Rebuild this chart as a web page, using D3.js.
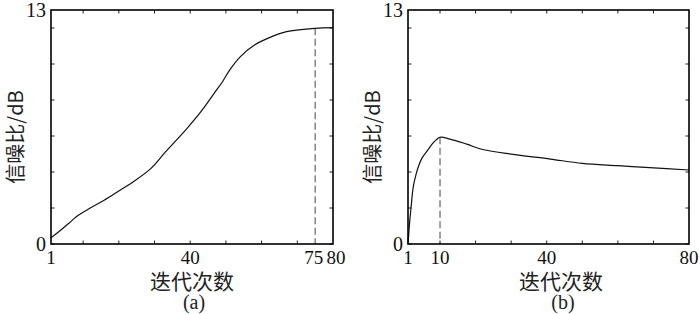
<!DOCTYPE html>
<html>
<head>
<meta charset="utf-8">
<script src="https://cdn.jsdelivr.net/npm/d3@7"></script>
<style>
  body { margin: 0; background: #fff; }
  svg { display: block; }
</style>
</head>
<body>
<div id="chart"></div>
<script>
// panel (a): SNR vs iteration count
var iterA = [1, 3, 6, 8, 12, 16, 20, 24, 29, 33, 39, 43, 47, 49, 51, 54, 58, 62, 67, 75, 80];
var snrA  = [0.35, 0.65, 1.15, 1.5, 2.0, 2.45, 2.95, 3.45, 4.2, 5.1, 6.4, 7.35, 8.45, 9.0, 9.65, 10.4, 11.05, 11.45, 11.8, 11.98, 12.02];
// panel (b)
var iterB = [1, 1.5, 1.8, 2.5, 3.3, 4, 5, 6.5, 8, 9, 10, 12.8, 17.5, 22, 30.5, 41, 50, 60, 69, 80];
var snrB  = [0, 1.3, 1.9, 3.2, 3.9, 4.35, 4.8, 5.2, 5.6, 5.8, 5.93, 5.83, 5.55, 5.25, 4.98, 4.72, 4.48, 4.35, 4.24, 4.11];

var yTicks = [0, 2, 4, 6, 8, 10, 12];
var yTickLabels = [0, 13];
var xTicks = [10, 20, 30, 40, 50, 60, 70];
var xLabelsA = [1, 40, 75, 80];
var xLabelsB = [1, 10, 40, 80];
var markA = 75, markB = 10;

var svg = d3.select("#chart").append("svg")
    .attr("width", 700)
    .attr("height", 314);

var serif = "'Liberation Serif', 'Times New Roman', serif";
var cjk = "'Noto Sans CJK SC', sans-serif";

function drawPanel(left, right, iters, vals, labels, mark, caption, labelX) {
    var top = 10, bottom = 244;

    var x = d3.scaleLinear().domain([1, 80]).range([left, right]);
    var y = d3.scaleLinear().domain([0, 13]).range([bottom, top]);

    var g = svg.append("g");

    // inward ticks on all four sides
    var tl = 3.5;
    yTicks.forEach(function(t) {
        g.append("line").attr("x1", left).attr("x2", left + tl).attr("y1", y(t)).attr("y2", y(t))
            .attr("stroke", "#222").attr("stroke-width", 1);
        g.append("line").attr("x1", right).attr("x2", right - tl).attr("y1", y(t)).attr("y2", y(t))
            .attr("stroke", "#222").attr("stroke-width", 1);
    });
    xTicks.forEach(function(t) {
        g.append("line").attr("x1", x(t)).attr("x2", x(t)).attr("y1", bottom).attr("y2", bottom - tl)
            .attr("stroke", "#222").attr("stroke-width", 1);
        g.append("line").attr("x1", x(t)).attr("x2", x(t)).attr("y1", top).attr("y2", top + tl)
            .attr("stroke", "#222").attr("stroke-width", 1);
    });

    var data = iters.map(function(d, i) { return { it: d, v: vals[i] }; });

    // dashed marker line
    var peak = data.filter(function(d) { return d.it === mark; })[0];
    g.append("line")
        .attr("x1", x(mark)).attr("x2", x(mark))
        .attr("y1", y(peak.v)).attr("y2", bottom)
        .attr("stroke", "#555")
        .attr("stroke-width", 1.1)
        .attr("stroke-dasharray", "7,3.5");

    g.append("path")
        .datum(data)
        .attr("fill", "none")
        .attr("stroke", "#111")
        .attr("stroke-width", 1.2)
        .attr("d", d3.line()
            .curve(d3.curveCatmullRom.alpha(0.5))
            .x(function(d) { return x(d.it); })
            .y(function(d) { return y(d.v); }));

    // frame
    g.append("rect")
        .attr("x", left).attr("y", top)
        .attr("width", right - left).attr("height", bottom - top)
        .attr("fill", "none").attr("stroke", "#000").attr("stroke-width", 1.6);

    yTickLabels.forEach(function(t) {
        g.append("text")
            .attr("x", left - 5).attr("y", y(t) + 7)
            .attr("text-anchor", "end")
            .attr("font-family", serif).attr("font-size", 20)
            .attr("fill", "#111")
            .text(t);
    });

    // labels that sit too close to a neighbour get pushed apart a little
    labels.forEach(function(t, i) {
        var dx = 0;
        if (i > 0 && x(t) - x(labels[i - 1]) < 25) dx = 3;
        if (i < labels.length - 1 && x(labels[i + 1]) - x(t) < 25) dx = -1.5;
        g.append("text")
            .attr("x", x(t) + dx).attr("y", 264)
            .attr("text-anchor", "middle")
            .attr("font-family", serif).attr("font-size", 19)
            .attr("fill", "#111")
            .text(t);
    });

    g.append("text")
        .attr("transform", "translate(" + (left - 28) + ",137) rotate(-90)")
        .attr("text-anchor", "middle")
        .attr("font-family", cjk).attr("font-size", 20)
        .attr("fill", "#222")
        .text("信噪比/dB");

    g.append("text")
        .attr("x", labelX).attr("y", 289)
        .attr("text-anchor", "middle")
        .attr("font-family", cjk).attr("font-size", 21)
        .attr("fill", "#222")
        .text("迭代次数");

    g.append("text")
        .attr("x", labelX + 2).attr("y", 309)
        .attr("text-anchor", "middle")
        .attr("font-family", serif).attr("font-size", 20)
        .attr("fill", "#222")
        .text(caption);
}

drawPanel(51, 333, iterA, snrA, xLabelsA, markA, "(a)", 192);
drawPanel(408, 689, iterB, snrB, xLabelsB, markB, "(b)", 561);
</script>
</body>
</html>
